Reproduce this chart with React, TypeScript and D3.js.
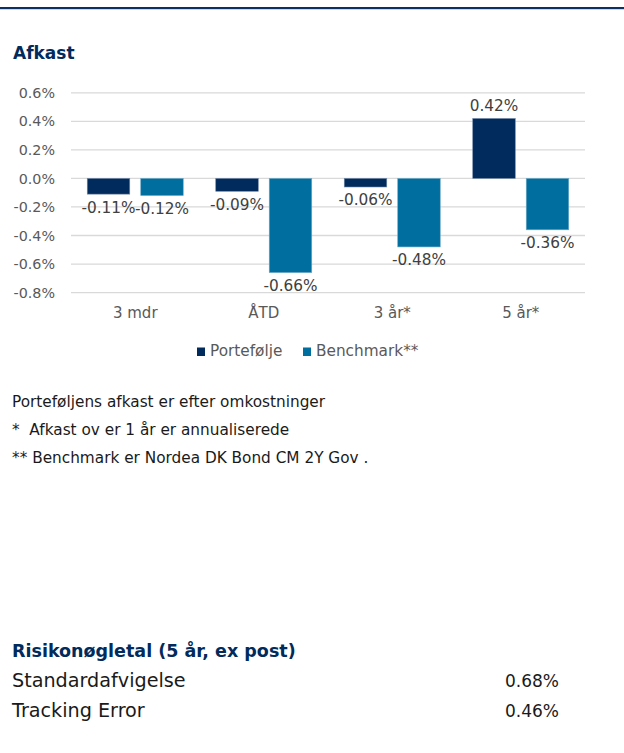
import React from 'react';
import * as d3 from 'd3';

const categories = ['3 mdr', 'ÅTD', '3 år*', '5 år*'];
const seriesNames = ['Portefølje', 'Benchmark**'];
const portfolio = [-0.11, -0.09, -0.06, 0.42];
const benchmark = [-0.12, -0.66, -0.48, -0.36];
const yTicks = [0.6, 0.4, 0.2, 0.0, -0.2, -0.4, -0.6, -0.8];

const footnotes = [
  'Porteføljens afkast er efter omkostninger',
  '*  Afkast ov er 1 år er annualiserede',
  '** Benchmark er Nordea DK Bond CM 2Y Gov .',
];
const riskLabels = ['Standardafvigelse', 'Tracking Error'];
const riskValues = ['0.68%', '0.46%'];

const NAVY = '#002b5c';
const TEAL = '#006fa0';
const colors = [NAVY, TEAL];
const strokes = ['#6f87a6', '#6fa9c6'];
const font = '"DejaVu Sans", sans-serif';

// d3.format gives a unicode minus, the chart uses a plain hyphen
const pct = (spec: string) => (v: number) => d3.format(spec)(v).replace('\u2212', '-') + '%';

const App = () => {
  const w = 624;
  const h = 753;

  const x = d3.scaleBand<string>().domain(categories).range([71, 585]).padding(0);
  const inner = d3
    .scaleBand<string>()
    .domain(seriesNames)
    .range([16.25, x.bandwidth() - 16.25])
    .paddingInner(0.205)
    .paddingOuter(0);
  const y = d3.scaleLinear().domain([-0.8, 0.6]).range([292.6, 92.8]);

  const series = [portfolio, benchmark];
  const fmt = pct('.2f');
  const tickFmt = pct('.1f');

  return (
    <svg
      width={w}
      height={h}
      style={{ position: 'absolute', left: 0, top: 0, background: '#fff' }}
      fontFamily={font}
    >
      <rect x={0} y={7} width={w} height={2.2} fill="#0d2f61" />

      <text x={13} y={59} fontSize={17} fontWeight="bold" fill={NAVY}>
        Afkast
      </text>

      {/* gridlines + y labels */}
      {yTicks.map((t) => (
        <g key={t}>
          <line x1={71} x2={585} y1={y(t)} y2={y(t)} stroke="#d9d9d9" strokeWidth={1.3} />
          <text x={55} y={y(t)} dy="0.36em" textAnchor="end" fontSize={14.3} fill="#595959">
            {tickFmt(t)}
          </text>
        </g>
      ))}

      {/* bars */}
      {categories.map((c, i) => (
        <g key={c} transform={`translate(${x(c)},0)`}>
          {series.map((s, j) => {
            const v = s[i];
            const bx = inner(seriesNames[j]) as number;
            const top = y(Math.max(0, v));
            const bh = Math.abs(y(v) - y(0));
            const ly = v >= 0 ? y(v) - 7 : y(v) + 18.5;
            return (
              <g key={j}>
                <rect
                  x={bx}
                  y={top}
                  width={inner.bandwidth()}
                  height={bh}
                  fill={colors[j]}
                  stroke={strokes[j]}
                  strokeWidth={0.6}
                />
                <text
                  x={bx + inner.bandwidth() / 2}
                  y={ly}
                  textAnchor="middle"
                  fontSize={15.3}
                  fill="#404040"
                >
                  {fmt(v)}
                </text>
              </g>
            );
          })}
          <text x={x.bandwidth() / 2} y={318} textAnchor="middle" fontSize={15} fill="#595959">
            {c}
          </text>
        </g>
      ))}

      {/* legend */}
      {seriesNames.map((n, j) => {
        const lx = j === 0 ? 197 : 303;
        return (
          <g key={n}>
            <rect x={lx} y={347.5} width={8} height={8.5} fill={colors[j]} />
            <text x={lx + 13} y={356} fontSize={15.3} fill="#595959">
              {n}
            </text>
          </g>
        );
      })}

      {/* footnotes */}
      {footnotes.map((f, i) => (
        <text key={i} x={12} y={407 + i * 27.8} fontSize={15.3} fill="#1a1a1a" xmlSpace="preserve">
          {f}
        </text>
      ))}

      {/* risk table */}
      <text x={12} y={656.5} fontSize={17.5} fontWeight="bold" fill={NAVY}>
        Risikonøgletal (5 år, ex post)
      </text>
      {riskLabels.map((r, i) => (
        <g key={r}>
          <text x={12} y={686.7 + i * 30} fontSize={19.2} fill="#1a1a1a">
            {r}
          </text>
          <text x={559} y={686.7 + i * 30} textAnchor="end" fontSize={17} fill="#1a1a1a">
            {riskValues[i]}
          </text>
        </g>
      ))}
    </svg>
  );
};

export default App;
